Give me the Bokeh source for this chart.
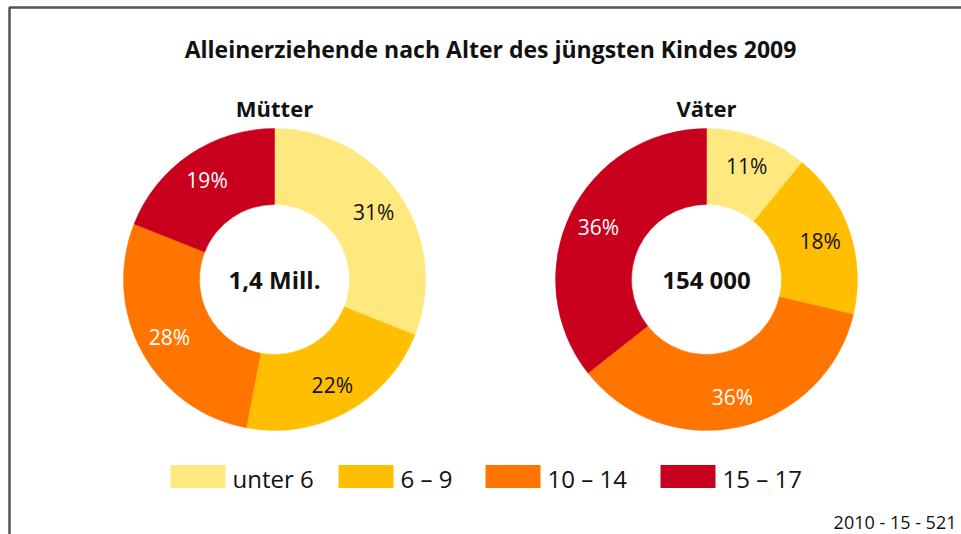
import math
from bokeh.plotting import figure
from bokeh.models import Range1d, ColumnDataSource
from bokeh.core.properties import value
from bokeh.embed import file_html
from bokeh.resources import INLINE

# ---- data ----
title = "Alleinerziehende nach Alter des jüngsten Kindes 2009"
categories = ["unter 6", "6 – 9", "10 – 14", "15 – 17"]
colors = ["#FFE87E", "#FFBE00", "#FF7500", "#C9001D"]
label_colors = ["#111111", "#111111", "#FFFFFF", "#FFFFFF"]
groups = ["Mütter", "Väter"]
totals = ["1,4 Mill.", "154 000"]
muetter = [31, 22, 28, 19]
vaeter = [11, 18, 36, 36]
series = [muetter, vaeter]
footnote = "2010 - 15 - 521"

FONT = "'Liberation Sans Narrow', 'Open Sans', sans-serif"

W, H = 961, 534
p = figure(width=W, height=H, output_backend="svg", toolbar_location=None,
           x_range=Range1d(0, W), y_range=Range1d(0, H),
           min_border=0)
p.axis.visible = False
p.grid.visible = False
p.outline_line_color = None
p.background_fill_color = "white"
p.border_fill_color = "white"

def Y(img_y):
    return H - img_y

# frame
p.line(x=[961, 9, 9], y=[Y(7), Y(7), Y(534)], line_color="#555555", line_width=2.5)

# title
p.text(x=[490], y=[Y(48)], text=[title], text_font=value(FONT), text_font_size="23px",
       text_font_style="bold", text_align="center", text_baseline="middle", text_color="#111111")

centers_x = [274, 706]
center_y = Y(279)
R_OUT, R_IN = 151, 75
R_LAB = 120

for gi, vals in enumerate(series):
    cx = centers_x[gi]
    tot = float(sum(vals))
    starts, ends, lx, ly, labs = [], [], [], [], []
    cum = 0.0
    for v in vals:
        a0 = math.pi / 2 - 2 * math.pi * cum / tot
        a1 = math.pi / 2 - 2 * math.pi * (cum + v) / tot
        mid = (a0 + a1) / 2
        starts.append(a0)
        ends.append(a1)
        lx.append(cx + R_LAB * math.cos(mid))
        ly.append(center_y + R_LAB * math.sin(mid))
        labs.append(f"{v}%")
        cum += v
    src = ColumnDataSource(dict(start=starts, end=ends, color=colors,
                                lx=lx, ly=ly, lab=labs, lc=label_colors))
    p.annular_wedge(x=cx, y=center_y, inner_radius=R_IN, outer_radius=R_OUT,
                    start_angle="start", end_angle="end", direction="clock",
                    fill_color="color", line_color="color", line_width=0.5, source=src)
    p.text(x="lx", y="ly", text="lab", text_color="lc", source=src,
           text_font=value(FONT), text_font_size="21px",
           text_align="center", text_baseline="middle")
    p.text(x=[cx], y=[center_y], text=[totals[gi]], text_font=value(FONT),
           text_font_size="24px", text_font_style="bold", text_align="center",
           text_baseline="middle", text_color="#111111")
    p.text(x=[cx], y=[Y(107)], text=[groups[gi]], text_font=value(FONT),
           text_font_size="22px", text_font_style="bold", text_align="center",
           text_baseline="middle", text_color="#111111")

# legend
box_left = [170, 338, 485, 660]
box_w, box_h = 55, 23
leg_y = Y(476)
p.rect(x=[b + box_w / 2 for b in box_left], y=[leg_y] * 4, width=box_w, height=box_h,
       fill_color=colors, line_color=None)
p.text(x=[b + box_w + 7 for b in box_left], y=[Y(478)] * 4, text=categories,
       text_font=value(FONT), text_font_size="24px", text_align="left",
       text_baseline="middle", text_color="#111111")

# footnote
p.text(x=[956], y=[Y(521)], text=[footnote], text_font=value(FONT), text_font_size="18px",
       text_align="right", text_baseline="middle", text_color="#111111")

open("out.html", "w").write(file_html(p, INLINE))
